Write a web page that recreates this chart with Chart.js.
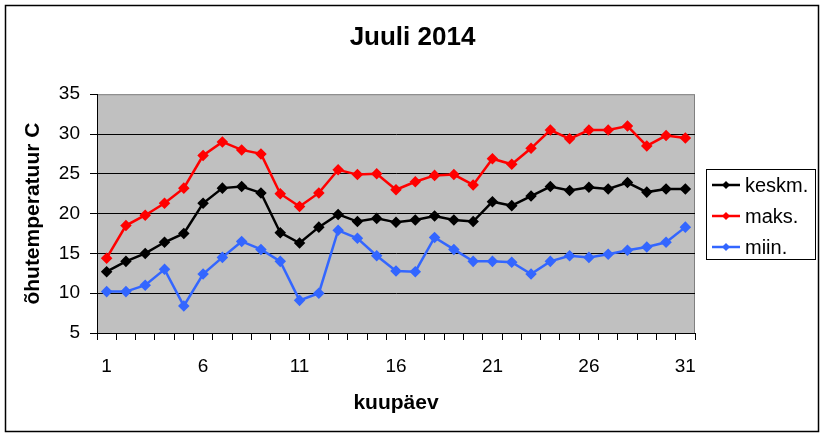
<!DOCTYPE html>
<html lang="et">
<head>
    <meta charset="UTF-8">
    <title>Juuli 2014</title>
    <script src="https://cdn.jsdelivr.net/npm/chart.js"></script>
    <style>
        body { margin: 0; padding: 0; background-color: white; }
        #wrap { width: 825px; height: 437px; }
    </style>
</head>
<body>
    <div id="wrap">
        <canvas id="temperatuurChart" width="825" height="437"></canvas>
    </div>
    <script>
        // Andmed
        const paevad = Array.from({ length: 31 }, (_, i) => String(i + 1));
        const keskm = [12.7, 14.0, 15.0, 16.4, 17.5, 21.3, 23.2, 23.4, 22.6, 17.6, 16.3, 18.3, 19.9, 19.0, 19.4, 18.9,
                       19.2, 19.7, 19.2, 19.0, 21.5, 21.0, 22.2, 23.4, 22.9, 23.3, 23.1, 23.9, 22.7, 23.1, 23.1];
        const maks = [14.4, 18.5, 19.8, 21.3, 23.2, 27.3, 29.0, 28.0, 27.5, 22.5, 20.9, 22.6, 25.5, 24.9, 25.0, 23.0,
                      24.0, 24.8, 24.9, 23.6, 26.9, 26.2, 28.2, 30.5, 29.4, 30.5, 30.5, 31.0, 28.5, 29.8, 29.5];
        const miin = [10.2, 10.2, 11.0, 13.0, 8.4, 12.4, 14.5, 16.5, 15.5, 14.0, 9.1, 10.0, 17.9, 16.9, 14.7, 12.8,
                      12.7, 17.0, 15.5, 14.0, 14.0, 13.9, 12.4, 14.0, 14.7, 14.5, 14.9, 15.4, 15.8, 16.4, 18.3];
        const seeriaNimed = ['keskm.', 'maks.', 'miin.'];
        const seeriaVarvid = ['#000000', '#FF0000', '#3366FF'];

        Chart.defaults.font.family = "'Liberation Sans', Arial, sans-serif";
        Chart.defaults.color = '#000';

        // Hall joonise ala + raamid + oma legend
        const taustPlugin = {
            id: 'taust',
            beforeDraw(chart) {
                const { ctx, chartArea: a } = chart;
                ctx.save();
                ctx.fillStyle = '#C0C0C0';
                ctx.fillRect(a.left, a.top, a.right - a.left, a.bottom - a.top);
                ctx.strokeStyle = '#808080';
                ctx.lineWidth = 1;
                ctx.strokeRect(a.left + 0.5, a.top + 0.5, a.right - a.left - 1, a.bottom - a.top);
                ctx.restore();
            },
            afterDraw(chart) {
                const { ctx, chartArea: a } = chart;
                ctx.save();
                // välimine raam
                ctx.strokeStyle = '#000';
                ctx.lineWidth = 1.5;
                ctx.strokeRect(5.5, 5.5, 813, 426);

                // legend
                const bx = a.right + 11, by = 169, bw = 109, bh = 90;
                ctx.fillStyle = '#fff';
                ctx.fillRect(bx, by, bw, bh);
                ctx.lineWidth = 1;
                ctx.strokeRect(bx + 0.5, by + 0.5, bw, bh);
                ctx.font = "20px 'Liberation Sans', Arial, sans-serif";
                ctx.textBaseline = 'middle';
                chart.data.datasets.forEach((ds, i) => {
                    const y = by + 16 + i * 31;
                    ctx.strokeStyle = ds.borderColor;
                    ctx.lineWidth = 2.5;
                    ctx.beginPath();
                    ctx.moveTo(bx + 6, y);
                    ctx.lineTo(bx + 34, y);
                    ctx.stroke();
                    ctx.fillStyle = ds.borderColor;
                    ctx.beginPath();
                    ctx.moveTo(bx + 20, y - 4);
                    ctx.lineTo(bx + 24, y);
                    ctx.lineTo(bx + 20, y + 4);
                    ctx.lineTo(bx + 16, y);
                    ctx.closePath();
                    ctx.fill();
                    ctx.fillStyle = '#000';
                    ctx.fillText(ds.label, bx + 39, y + 1);
                });
                ctx.restore();
            }
        };

        const seeriad = [keskm, maks, miin].map((andmed, i) => ({
            label: seeriaNimed[i],
            data: andmed,
            borderColor: seeriaVarvid[i],
            backgroundColor: seeriaVarvid[i],
            borderWidth: 2.5,
            pointStyle: 'rectRot',
            pointRadius: 4,
            pointHoverRadius: 4,
            tension: 0,
            yAxisID: 'y'
        }));

        const ctx = document.getElementById('temperatuurChart').getContext('2d');
        new Chart(ctx, {
            type: 'line',
            data: { labels: paevad, datasets: seeriad },
            options: {
                responsive: false,
                animation: false,
                devicePixelRatio: 1,
                layout: { padding: 0 },
                plugins: {
                    legend: { display: false },
                    tooltip: { enabled: false },
                    title: {
                        display: true,
                        text: 'Juuli 2014',
                        font: { size: 26, weight: 'bold' },
                        color: '#000',
                        padding: { top: 22, bottom: 41 }
                    }
                },
                scales: {
                    x: {
                        type: 'category',
                        offset: true,
                        afterFit(scale) { scale.height = 104; },
                        grid: {
                            offset: true,
                            drawOnChartArea: false,
                            drawTicks: true,
                            tickLength: 7,
                            color: '#000'
                        },
                        border: { display: true, color: '#000', width: 1 },
                        ticks: {
                            autoSkip: false,
                            maxRotation: 0,
                            padding: 15,
                            font: { size: 19 },
                            callback(val, index) {
                                return index % 5 === 0 ? this.getLabelForValue(val) : '';
                            }
                        },
                        title: {
                            display: true,
                            text: 'kuupäev',
                            font: { size: 21, weight: 'bold' },
                            padding: { top: 0, bottom: 21 }
                        }
                    },
                    y: {
                        min: 5,
                        max: 35,
                        afterFit(scale) { scale.width = 97; },
                        grid: {
                            color: (c) => (c.tick && c.tick.value === 35 ? 'rgba(0,0,0,0)' : '#000'),
                            tickColor: '#000',
                            tickLength: 7,
                            lineWidth: 1
                        },
                        border: { display: true, color: '#000', width: 1 },
                        ticks: {
                            stepSize: 5,
                            padding: 10,
                            font: { size: 19 }
                        },
                        title: {
                            display: true,
                            text: 'õhutemperatuur C',
                            font: { size: 21, weight: 'bold' },
                            padding: { top: 21, bottom: 0 }
                        }
                    },
                    // tühi parem telg jätab ruumi legendile
                    legendiRuum: {
                        position: 'right',
                        display: true,
                        min: 5,
                        max: 35,
                        afterFit(scale) { scale.width = 130; },
                        grid: { display: false },
                        border: { display: false },
                        ticks: { display: false }
                    }
                }
            },
            plugins: [taustPlugin]
        });
    </script>
</body>
</html>
